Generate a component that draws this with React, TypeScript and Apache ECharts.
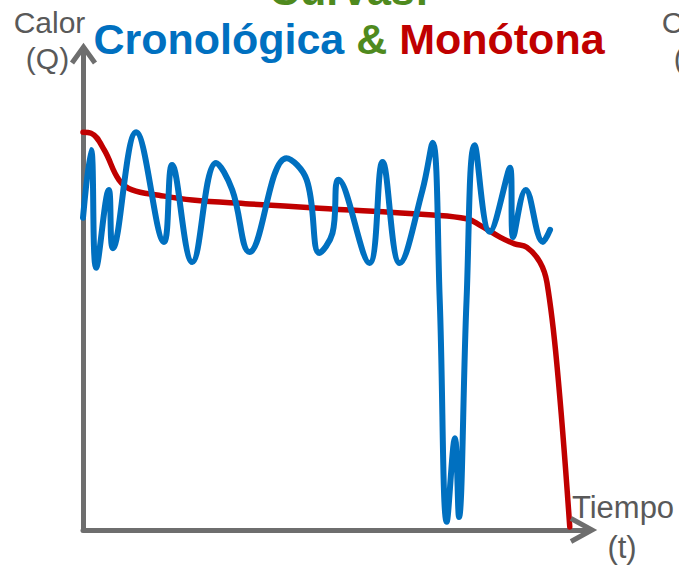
import React, { useEffect, useRef } from "react";
import * as echarts from "echarts";

// Chronological curve (blue): time (t) and heat (Q), arbitrary 0-100 units
const blueT = [0, 1.6, 2.6, 5.1, 5.9, 10.5, 16.0, 17.6, 21.6, 26.3, 29.5, 32.9, 40.2, 44.2, 46.7, 49.3, 50.5, 56.6, 59.2, 62.6, 67.1, 69.1, 70.5, 71.9, 73.5, 74.3, 75.8, 77.4, 80.4, 84.4, 85.0, 87.5, 90.9, 92.3];
const blueQ = [64.9, 79.0, 54.5, 70.7, 58.6, 82.7, 59.9, 75.9, 55.7, 76.3, 70.7, 57.8, 77.3, 72.8, 57.6, 61.7, 72.8, 55.5, 76.5, 55.5, 70.7, 80.5, 47.8, 1.7, 19.1, 2.7, 47.8, 80.0, 62.0, 75.3, 60.9, 70.7, 59.9, 62.4];

// Monotone curve (red)
const redT = [0, 1.6, 4.2, 7.1, 9.7, 15.0, 21.6, 32.9, 46.7, 69.1, 75.8, 78.4, 82.4, 85.3, 87.7, 90.3, 91.7, 93.7, 96.2];
const redQ = [82.7, 82.5, 79.0, 72.8, 70.7, 69.6, 68.6, 67.8, 66.9, 65.5, 64.7, 63.4, 60.9, 59.5, 58.8, 55.7, 51.4, 33.9, 0.6];

const titleTop = "Curvas:";
const titleParts = ["Cronológica", "&", "Monótona"];
const yLabel = ["Calor", "(Q)"];
const xLabel = ["Tiempo", "(t)"];

const FONT = "'Liberation Sans', Arial, sans-serif";
const AXIS = "#6E6E6E";
const LABEL = "#595959";

export default function App() {
  const ref = useRef<HTMLDivElement>(null);
  useEffect(() => {
    if (!ref.current) return;
    const chart = echarts.init(ref.current, undefined, { renderer: "svg" });
    const blue = blueT.map((t, i) => [t, blueQ[i]]);
    const red = redT.map((t, i) => [t, redQ[i]]);
    const labelStyle = (text: string, x: number, y: number, size: number) => ({
      type: "text",
      x,
      y,
      silent: true,
      style: {
        text,
        fill: LABEL,
        font: `${size}px ${FONT}`,
        textAlign: "center",
        textVerticalAlign: "middle",
      },
    });
    chart.setOption({
      animation: false,
      backgroundColor: "#ffffff",
      grid: { left: 83, right: 90, top: 49, bottom: 35, containLabel: false },
      xAxis: {
        type: "value",
        min: 0,
        max: 100,
        axisLine: { show: true, onZero: false, lineStyle: { color: AXIS, width: 5 } },
        axisTick: { show: false },
        axisLabel: { show: false },
        splitLine: { show: false },
      },
      yAxis: {
        type: "value",
        min: 0,
        max: 100,
        axisLine: { show: true, onZero: false, lineStyle: { color: AXIS, width: 5 } },
        axisTick: { show: false },
        axisLabel: { show: false },
        splitLine: { show: false },
      },
      series: [
        {
          type: "line",
          name: "Monótona",
          data: red,
          smooth: 0.4,
          symbol: "none",
          z: 2,
          lineStyle: { color: "#C00000", width: 5.5, cap: "round", join: "round" },
        },
        {
          type: "line",
          name: "Cronológica",
          data: blue,
          smooth: 0.4,
          symbol: "none",
          z: 3,
          lineStyle: { color: "#0070C0", width: 6, cap: "round", join: "round" },
        },
      ],
      graphic: [
        {
          type: "polyline",
          silent: true,
          shape: { points: [[72, 63], [83.5, 47], [95, 63]] },
          style: { stroke: AXIS, lineWidth: 5, fill: null, lineJoin: "miter" },
          z: 10,
        },
        {
          type: "polyline",
          silent: true,
          shape: { points: [[571, 518.5], [592, 530], [571, 541.5]] },
          style: { stroke: AXIS, lineWidth: 5, fill: null, lineJoin: "miter" },
          z: 10,
        },
        {
          type: "text",
          x: 349,
          y: -10,
          silent: true,
          style: {
            text: titleTop,
            fill: "#4F8A1E",
            font: `bold 43px ${FONT}`,
            textAlign: "center",
            textVerticalAlign: "middle",
          },
        },
        {
          type: "text",
          x: 349,
          y: 39,
          silent: true,
          style: {
            text: `{b|${titleParts[0]}} {g|${titleParts[1]}} {r|${titleParts[2]}}`,
            font: `bold 43px ${FONT}`,
            textAlign: "center",
            textVerticalAlign: "middle",
            rich: {
              b: { fill: "#0070C0", font: `bold 43px ${FONT}` },
              g: { fill: "#4F8A1E", font: `bold 43px ${FONT}` },
              r: { fill: "#C00000", font: `bold 43px ${FONT}` },
            },
          },
        },
        labelStyle(yLabel[0], 49.5, 22.6, 30),
        labelStyle(yLabel[1], 47.5, 58.6, 30),
        labelStyle(yLabel[0], 697.5, 22.6, 30),
        labelStyle(yLabel[1], 695.5, 58.6, 30),
        labelStyle(xLabel[0], 623, 507, 31),
        labelStyle(xLabel[1], 622, 547, 31),
      ],
    });
    return () => chart.dispose();
  }, []);
  return (
    <div
      ref={ref}
      style={{ position: "fixed", left: 0, top: 0, width: 679, height: 565 }}
    />
  );
}
